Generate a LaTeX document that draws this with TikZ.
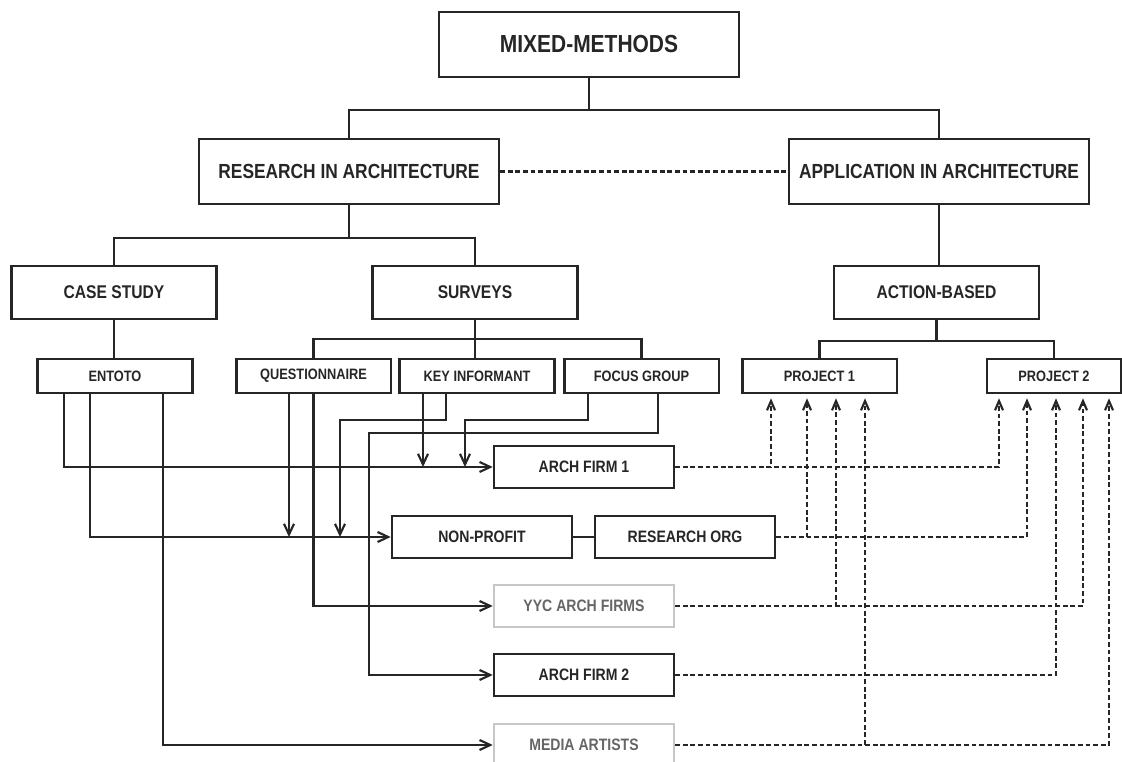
\documentclass[tikz,border=0pt]{standalone}
\usepackage{fontspec}
\setmainfont{Liberation Sans}[FakeStretch=0.85]
\usetikzlibrary{arrows.meta,calc}
\tikzset{
	box/.style={draw=black!85, line width=1.9pt, align=center, inner sep=0pt, text=black!85},
	topbox/.style={box, minimum width=225pt, minimum height=48.75pt},
	midbox/.style={box, minimum width=153.75pt, minimum height=39.75pt,
		font=\fontsize{13.8}{15}\selectfont\bfseries},
	smallbox/.style={box, minimum width=115.9pt, minimum height=25.5pt,
		font=\fontsize{11.3}{13}\selectfont\bfseries},
	firmbox/.style={box, minimum width=135pt, minimum height=31.5pt,
		font=\fontsize{12.4}{14}\selectfont\bfseries},
	greybox/.style={firmbox, draw=black!22, text=black!60},
	link/.style={line width=1.6pt, black!85},
	dashedlink/.style={link, dash pattern=on 3.5pt off 2.2pt},
	arrow/.style={link, -{Straight Barb[length=8pt,width=7.5pt]}},
	dashedarrow/.style={dashedlink, -{Straight Barb[length=7pt,width=6pt]}}
}
\begin{document}
\begin{tikzpicture}[x=0.75pt, y=-0.75pt]
	\fill[white] (0,0) rectangle (1122,762);
	\useasboundingbox (0,0) rectangle (1122,762);
	
	%% -- Top of the tree
	\node[topbox, font=\fontsize{18.5}{20}\selectfont\bfseries] (mm) at (589,44.5) {MIXED-METHODS};
	\node[topbox, font=\fontsize{15.3}{17}\selectfont\bfseries] (ria) at (349,171.5) {RESEARCH IN ARCHITECTURE};
	\node[topbox, font=\fontsize{15.3}{17}\selectfont\bfseries] (aia) at (939,171.5) {APPLICATION IN ARCHITECTURE};
	
	%% -- Methods
	\node[midbox] (cs) at (114,292.5) {CASE STUDY};
	\node[midbox] (sv) at (475,292.5) {SURVEYS};
	\node[midbox] (ab) at (936.5,292.5) {ACTION-BASED};
	
	%% -- Sources and projects
	\node[smallbox] (ent) at (115,376) {ENTOTO};
	\node[smallbox] (qst) at (313.5,376) {QUESTIONNAIRE};
	\node[smallbox] (ki) at (477,376) {KEY INFORMANT};
	\node[smallbox] (fg) at (641.5,376) {FOCUS GROUP};
	\node[smallbox] (p1) at (819.5,376) {PROJECT 1};
	\node[smallbox, minimum width=100.5pt] (p2) at (1054,376) {PROJECT 2};
	
	%% -- Partners
	\node[firmbox] (af1) at (584,467) {ARCH FIRM 1};
	\node[firmbox] (np) at (482,537) {NON-PROFIT};
	\node[firmbox] (ro) at (685,537) {RESEARCH ORG};
	\node[greybox] (yyc) at (584,606) {YYC ARCH FIRMS};
	\node[firmbox] (af2) at (584,675) {ARCH FIRM 2};
	\node[greybox] (ma) at (584,745) {MEDIA ARTISTS};
	
	%% -- Tree links
	\draw[link] (mm.south) -- ++(0,32) coordinate (j1);
	\draw[link] (ria.north) |- (j1) -| (aia.north);
	\draw[link] (ria.south) -- ++(0,33) coordinate (j2);
	\draw[link] (cs.north) |- (j2) -| (sv.north);
	\draw[link] (cs.south) -- (cs.south |- ent.north);
	\draw[link] (sv.south) -- (sv.south |- ki.north);
	\draw[link] (qst.north) |- ($(sv.south)+(0,19)$) -| (fg.north);
	\draw[link] (aia.south) -- (aia.south |- ab.north);
	\draw[link] (ab.south) -- ++(0,21) coordinate (j4);
	\draw[link] (p1.north) |- (j4) -| (p2.north);
	\draw[dashedlink] (ria) -- (aia);
	\draw[link] (np) -- (ro);
	
	%% -- Solid arrows from the sources
	\coordinate (e1) at ($(ent.south)+(-51,0)$);
	\coordinate (e2) at ($(ent.south)+(-25,0)$);
	\coordinate (e3) at ($(ent.south)+(48,0)$);
	\coordinate (q1) at ($(qst.south)+(-24.5,0)$);
	\coordinate (k1) at ($(ki.south)+(-54,0)$);
	\coordinate (k2) at ($(ki.south)+(-31,0)$);
	\coordinate (f1) at ($(fg.south)+(-53.5,0)$);
	\coordinate (f2) at ($(fg.south)+(16.5,0)$);
	
	\draw[arrow] (e1) |- (af1.west);
	\draw[arrow] (e2) |- (np.west);
	\draw[arrow] (e3) |- (ma.west);
	\draw[arrow] (q1) -- (q1 |- np.west);
	\draw[arrow] (qst.south) |- (yyc.west);
	\draw[arrow] (k1) -- (k1 |- af1.west);
	\draw[arrow] (k2) -- ++(0,26) -- ++(-106,0) coordinate (k2b) -- (k2b |- np.west);
	\draw[arrow] (f1) -- ++(0,26) -- ++(-123,0) coordinate (f1b) -- (f1b |- af1.west);
	\draw[arrow] (f2) -- ++(0,39) -- ++(-289,0) |- (af2.west);
	
	%% -- Dashed arrows up to the projects
	\foreach \n/\dx in {a/-48.5, b/-12.5, c/16.5, d/45.5}
		\coordinate (p1\n) at ($(p1.south)+(\dx,4)$);
	\foreach \n/\dx in {a/-55, b/-27, c/2, d/29, e/55}
		\coordinate (p2\n) at ($(p2.south)+(\dx,4)$);
	
	\draw[dashedarrow] (af1.east) -| (p1a);
	\draw[dashedarrow] (af1.east) -| (p2a);
	\draw[dashedarrow] (ro.east) -| (p1b);
	\draw[dashedarrow] (ro.east) -| (p2b);
	\draw[dashedarrow] (yyc.east) -| (p1c);
	\draw[dashedarrow] (yyc.east) -| (p2d);
	\draw[dashedarrow] (af2.east) -| (p2c);
	\draw[dashedarrow] (ma.east) -| (p1d);
	\draw[dashedarrow] (ma.east) -| (p2e);
	
\end{tikzpicture}
\end{document}
